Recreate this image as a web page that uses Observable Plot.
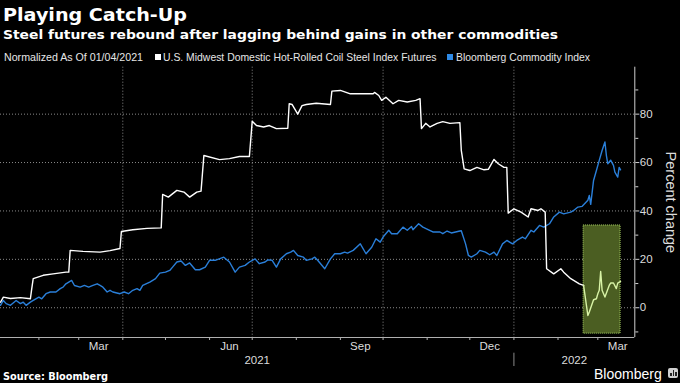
<!DOCTYPE html>
<html><head><meta charset="utf-8">
<script src="https://cdn.jsdelivr.net/npm/d3@7"></script>
<script src="https://cdn.jsdelivr.net/npm/@observablehq/plot@0.6"></script>
<style>
html,body{margin:0;padding:0;background:#000;}
#wrap{position:relative;width:680px;height:383px;overflow:hidden;background:#000;font-family:"Liberation Sans",Arial,sans-serif;color:#fff;}
#wrap svg{position:absolute;left:0;top:0;}
.t{position:absolute;white-space:nowrap;line-height:1;transform-origin:0 50%;display:inline-block;}
#title{left:3px;top:4.8px;font:bold 17.5px "DejaVu Sans",sans-serif;color:#fff;}
#sub{left:3px;top:26.7px;font:bold 13px "DejaVu Sans",sans-serif;color:#fff;}
.leg{top:52px;font-size:10.6px;color:#e6e6e6;}
.sw{position:absolute;width:6px;height:6px;top:54px;}
#src{left:3.3px;top:369.7px;font:bold 11px "DejaVu Sans",sans-serif;color:#fff;}
#logo{left:594px;top:366.5px;font-size:14px;color:#fff;}
#icon{position:absolute;left:668px;top:368px;width:10px;height:10px;border-radius:2px;background:#cfcfcf;}
#icon i{position:absolute;bottom:2px;width:1.5px;background:#222;}
</style></head>
<body>
<div id="wrap">
  <div id="chart"></div>
  <span class="t" id="title">Playing Catch-Up</span>
  <span class="t" id="sub">Steel futures rebound after lagging behind gains in other commodities</span>
  <span class="t leg" id="l0" style="left:4px">Normalized As Of 01/04/2021</span>
  <span class="sw" style="left:155px;background:#ffffff"></span>
  <span class="t leg" id="l1" style="left:163.3px">U.S. Midwest Domestic Hot-Rolled Coil Steel Index Futures</span>
  <span class="sw" style="left:446.7px;background:#2e8ae6"></span>
  <span class="t leg" id="l2" style="left:456px">Bloomberg Commodity Index</span>
  <span class="t" id="src">Source: Bloomberg</span>
  <span class="t" id="logo">Bloomberg</span>
  <span id="icon"><i style="left:2px;height:3px"></i><i style="left:4.5px;height:6px"></i><i style="left:7px;height:4px"></i></span>
</div>
<script>
// ---- data ----
const steelDates = ["2021-01-05","2021-01-07","2021-01-12","2021-01-19","2021-01-26","2021-01-27","2021-01-28","2021-02-04","2021-02-11","2021-02-20","2021-02-22","2021-02-23","2021-03-04","2021-03-16","2021-03-23","2021-03-30","2021-03-31","2021-04-08","2021-04-18","2021-04-28","2021-04-29","2021-05-03","2021-05-09","2021-05-14","2021-05-18","2021-05-23","2021-05-26","2021-05-28","2021-06-08","2021-06-15","2021-06-22","2021-06-29","2021-07-01","2021-07-04","2021-07-09","2021-07-13","2021-07-18","2021-07-26","2021-07-27","2021-07-29","2021-08-02","2021-08-05","2021-08-08","2021-08-15","2021-08-25","2021-08-26","2021-09-01","2021-09-08","2021-09-24","2021-09-25","2021-09-28","2021-09-30","2021-10-03","2021-10-08","2021-10-12","2021-10-18","2021-10-24","2021-10-27","2021-10-28","2021-10-31","2021-11-03","2021-11-08","2021-11-12","2021-11-17","2021-11-24","2021-11-25","2021-11-27","2021-12-01","2021-12-06","2021-12-11","2021-12-14","2021-12-18","2021-12-21","2021-12-25","2021-12-27","2021-12-28","2022-01-01","2022-01-06","2022-01-11","2022-01-13","2022-01-18","2022-01-20","2022-01-23","2022-01-24","2022-01-29","2022-02-03","2022-02-05","2022-02-10","2022-02-16","2022-02-19","2022-02-22","2022-02-23","2022-02-26","2022-02-28","2022-03-01","2022-03-02","2022-03-03","2022-03-04","2022-03-06","2022-03-09","2022-03-10","2022-03-12","2022-03-14","2022-03-15","2022-03-17"];
const steelValues = [2.3,4.4,3.8,4.2,3.7,8,12,13.4,14,14.7,14.7,23.7,23.3,23,23.6,24.5,31.5,32.2,32.8,33,46.8,45.7,48.5,47.8,45.7,47.8,48.2,62.9,61.2,61.6,62.5,62.5,77.1,75.3,74.7,75.3,74,74.2,84.3,84,80,83.5,84,84.5,84,89.5,89.8,88.4,88.4,89,87.7,85.7,87,84.3,85.7,85,85.7,86.4,74,76.2,74.7,76.2,76.9,76.2,76.5,65,57.4,56.7,58,57,57.2,61.3,59.5,58,58,39.1,40.9,39.5,37.5,40.9,40.2,40.9,39.5,16.1,14,16.1,14.7,12,9.9,9.2,-3.2,-1.8,3.3,3.7,5.8,7.2,15,7.2,4.4,9.2,10.2,10.2,7.9,10.2,10.9];
const bcomDates = ["2021-01-05","2021-01-07","2021-01-09","2021-01-12","2021-01-16","2021-01-19","2021-01-21","2021-01-23","2021-01-26","2021-01-28","2021-02-01","2021-02-03","2021-02-06","2021-02-09","2021-02-13","2021-02-16","2021-02-18","2021-02-20","2021-02-24","2021-02-26","2021-03-02","2021-03-05","2021-03-08","2021-03-11","2021-03-14","2021-03-16","2021-03-18","2021-03-21","2021-03-23","2021-03-25","2021-03-30","2021-04-02","2021-04-05","2021-04-08","2021-04-11","2021-04-13","2021-04-15","2021-04-20","2021-04-24","2021-04-27","2021-05-01","2021-05-04","2021-05-06","2021-05-09","2021-05-12","2021-05-15","2021-05-18","2021-05-22","2021-05-25","2021-05-29","2021-06-01","2021-06-05","2021-06-11","2021-06-15","2021-06-19","2021-06-22","2021-06-26","2021-06-29","2021-07-03","2021-07-06","2021-07-10","2021-07-12","2021-07-15","2021-07-18","2021-07-21","2021-07-25","2021-07-28","2021-07-30","2021-08-02","2021-08-06","2021-08-08","2021-08-12","2021-08-14","2021-08-16","2021-08-21","2021-08-25","2021-08-28","2021-09-01","2021-09-04","2021-09-06","2021-09-10","2021-09-15","2021-09-19","2021-09-23","2021-09-26","2021-09-29","2021-10-01","2021-10-05","2021-10-07","2021-10-11","2021-10-15","2021-10-18","2021-10-21","2021-10-22","2021-10-26","2021-10-29","2021-11-02","2021-11-05","2021-11-10","2021-11-12","2021-11-15","2021-11-18","2021-11-24","2021-11-25","2021-11-28","2021-11-30","2021-12-02","2021-12-06","2021-12-08","2021-12-12","2021-12-15","2021-12-18","2021-12-20","2021-12-24","2021-12-27","2021-12-31","2022-01-03","2022-01-07","2022-01-09","2022-01-13","2022-01-15","2022-01-19","2022-01-22","2022-01-26","2022-01-29","2022-02-02","2022-02-05","2022-02-10","2022-02-12","2022-02-15","2022-02-18","2022-02-22","2022-02-23","2022-02-24","2022-02-26","2022-02-28","2022-03-02","2022-03-04","2022-03-06","2022-03-07","2022-03-08","2022-03-10","2022-03-12","2022-03-13","2022-03-15","2022-03-16","2022-03-17"];
const bcomValues = [1,3,1.7,1,3,1.7,2.3,1,2.3,3,4.4,3.7,5.8,6.5,6.5,7.9,8.5,9.9,11.3,9.2,8.5,9.2,8.5,9.2,9.9,9.2,8.5,6.5,7.2,6.5,5.8,6.5,5.8,7.2,7.9,7.2,9.2,10.6,12,14.3,14.7,15.4,16.8,18.9,19.3,17.5,18.5,15.7,15.7,16.8,19.6,19.6,20.9,18.9,14.7,16.8,17.5,18.9,20.2,18.2,18.9,19.8,19.6,16.8,20.2,22.3,23,23.7,21.6,20.9,19.6,20.2,20.9,19.6,16.1,20.2,22.3,22.3,23,22.6,23.7,26.4,22.3,25,28.5,27.1,29.2,32,30.6,30.6,33.3,32,33.6,32.2,34.7,33.3,32.2,31.3,31.3,30.6,31.7,30.9,31.7,31.8,26.4,21.6,20.9,22.3,23.7,23,21.9,23,21.6,26.4,27.8,26.4,27.8,29.2,28.5,32,31.3,34,33.3,34.7,37.5,39.5,38.8,39.5,40.2,41.6,41.9,44.4,46.4,42.7,52.6,56.7,60.9,65,68.5,63,59.5,61,58.8,56,54,58,57];
const highlightDates = ["2022-02-19","2022-03-17"];
const highlightValues = [-10.7, 34];
const yTicks = [0,20,40,60,80];
const yMinorTicks = [-10,10,30,50,70,90];
const gridDates = ["2021-04-01","2021-07-01","2021-10-01","2022-01-01"];
const monthLabels = ["Mar","Jun","Sep","Dec","Mar"];
const monthLabelDates = ["2021-03-15","2021-06-15","2021-09-15","2021-12-15","2022-03-15"];
const yearLabels = ["2021","2022"];
const yearStarts = ["2021-01-01","2022-01-01"];
const xDomain = ["2021-01-05","2022-03-27"];
const yDomain = [-12.3, 99.4];

// ---- build ----
const P = s => new Date(s);
const steel = steelDates.map((d,i)=>({date:P(d), value:steelValues[i]}));
const split = steelDates.indexOf(highlightDates[0]);
const steelBefore = steel.slice(0, split+1);
const steelAfter = steel.slice(split);
const bcom = bcomDates.map((d,i)=>({date:P(d), value:bcomValues[i]}));
const x0 = P(xDomain[0]), x1 = P(xDomain[1]);
const monthTicks = d3.utcMonth.range(x0, x1);
const years = yearLabels.map((label,i)=>{
  const a = Math.max(+x0, +P(yearStarts[i]));
  const b = Math.min(+x1, i+1<yearStarts.length ? +P(yearStarts[i+1]) : +x1);
  return {label, mid:new Date((a+b)/2)};
});
const months = monthLabels.map((label,i)=>({label, date:P(monthLabelDates[i])}));
const H = 383, mT = 66.7, mB = 46;

const chart = Plot.plot({
  width: 680, height: H,
  marginTop: mT, marginBottom: mB, marginLeft: 0, marginRight: 45.7,
  x: {type:"utc", domain:[x0,x1], axis:null},
  y: {domain:yDomain, axis:null},
  style: {background:"transparent", fontFamily:'"Liberation Sans", Arial, sans-serif', fontSize:"11.5px", color:"#dcdcdc"},
  marks: [
    Plot.ruleY(yTicks, {stroke:"#8a8a8a", strokeDasharray:"1,2", strokeWidth:1}),
    Plot.ruleX(gridDates.map(P), {stroke:"#8a8a8a", strokeDasharray:"1,2", strokeWidth:1}),
    Plot.rect([{a:P(highlightDates[0]), b:P(highlightDates[1]), lo:highlightValues[0], hi:highlightValues[1]}],
      {x1:"a", x2:"b", y1:"lo", y2:"hi", fill:"#4b5e22", stroke:"#a6d062", strokeDasharray:"1,1", strokeWidth:1}),
    Plot.line(bcom, {x:"date", y:"value", stroke:"#2a7fd9", strokeWidth:1.4}),
    Plot.line(steelBefore, {x:"date", y:"value", stroke:"#ffffff", strokeWidth:1.4}),
    Plot.line(steelAfter, {x:"date", y:"value", stroke:"#d8f3a6", strokeWidth:1.4}),
    Plot.ruleY([yDomain[0]], {stroke:"#b0b0b0"}),
    Plot.ruleX([x1], {stroke:"#cfcfcf"}),
    Plot.axisY({anchor:"right", ticks:yMinorTicks, tickSize:3, tickFormat:()=>"", label:null, stroke:"#cfcfcf"}),
    Plot.axisY({anchor:"right", ticks:yTicks, tickSize:4, tickPadding:1, label:null, stroke:"#cfcfcf", fill:"#dcdcdc"}),
    Plot.axisX({anchor:"bottom", ticks:monthTicks, tickSize:3, tickFormat:()=>"", label:null, stroke:"#b0b0b0"}),
    Plot.text(months, {x:"date", text:"label", frameAnchor:"bottom", dy:9.3, lineAnchor:"middle", fill:"#dcdcdc", fontSize:11.5}),
    Plot.text(years, {x:"mid", text:"label", frameAnchor:"bottom", dy:22.7, lineAnchor:"middle", fill:"#dcdcdc", fontSize:11.5}),
    Plot.ruleX([P(yearStarts[1])], {insetTop:(H-mB-mT)+15.7, insetBottom:-29, stroke:"#8a8a8a"}),
    Plot.text(["Percent change"], {text:d=>d, frameAnchor:"right", textAnchor:"middle", rotate:90, dx:36, fill:"#dcdcdc", fontSize:14.5, lineAnchor:"middle"})
  ]
});
document.getElementById("chart").appendChild(chart);

function fit(id, w){
  const el = document.getElementById(id);
  const r = el.getBoundingClientRect().width;
  if (r > 0) el.style.transform = `scaleX(${w/r})`;
}
fit("title",184); fit("sub",555); fit("l0",139); fit("l1",273.4); fit("l2",134); fit("src",105); fit("logo",67.7);
</script>
</body></html>
